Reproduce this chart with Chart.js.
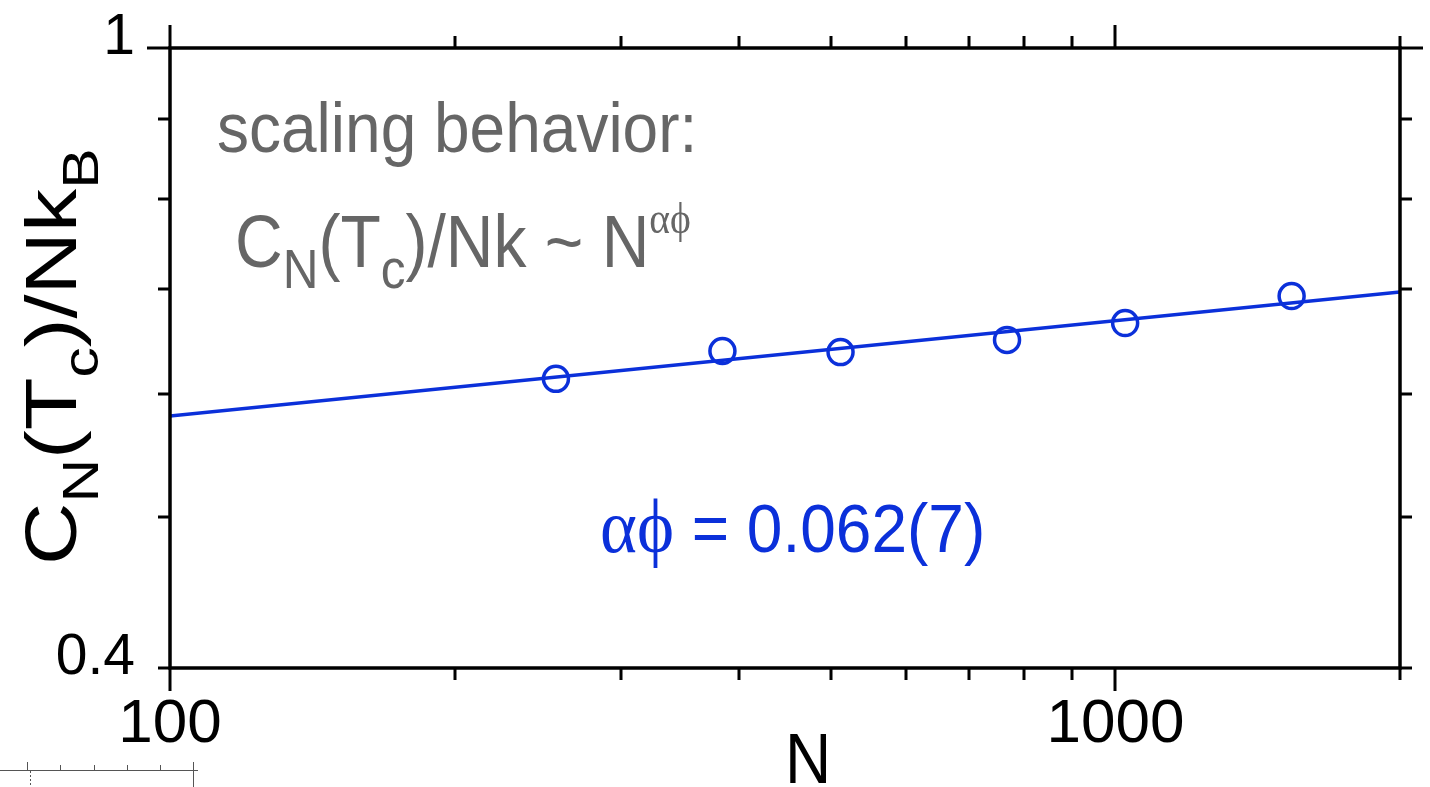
<!DOCTYPE html>
<html><head><meta charset="utf-8">
<script src="https://cdn.jsdelivr.net/npm/chart.js@4.4.1/dist/chart.umd.min.js"></script>
<style>html,body{margin:0;padding:0;background:#fff;overflow:hidden}#wrap{width:1430px;height:787px;position:relative}</style>
</head><body><div id="wrap"><canvas id="c" width="1430" height="787"></canvas></div>
<script>
// ---- data ----
const sizes = [256, 384, 512, 768, 1024, 1536];
const heatCapacity = [0.6133, 0.639, 0.638, 0.6496, 0.666, 0.6931];
const fitN = [100, 2000];
const fitC = [0.5805, 0.6973];
const xLabelTicks = [100, 1000];
const xMinorTicks = [200, 300, 400, 500, 600, 700, 800, 900, 2000];
const yLabelTicks = [0.4, 1];
const yMinorTicks = [0.5, 0.6, 0.7, 0.8, 0.9];
const xTitle = 'N';
const annotationLine1 = 'scaling behavior:';
const exponentValue = '0.062(7)';

const BLUE = '#0b30da';
const SANS = '"Liberation Sans", Arial, Helvetica, sans-serif';
const SERIF = '"Liberation Serif", "DejaVu Serif", "Times New Roman", serif';

function drawRich(ctx, parts, x, y, o) {
  ctx.save();
  ctx.translate(x, y);
  if (o.rot) ctx.rotate(o.rot);
  ctx.scale(o.sx || 1, o.sy || 1);
  ctx.fillStyle = o.color;
  ctx.textBaseline = 'alphabetic';
  ctx.textAlign = 'left';
  let cx = 0;
  for (const p of parts) {
    const s = o.size * (p.scale || (p.sub || p.sup ? 0.72 : 1));
    ctx.font = s + 'px ' + (p.family || o.family);
    const dy = p.sub ? o.size * (p.off || 0.27) : p.sup ? -o.size * (p.off || 0.42) : 0;
    cx += (p.dx || 0);
    ctx.fillText(p.t, cx, dy);
    cx += ctx.measureText(p.t).width;
  }
  ctx.restore();
}

const decorations = {
  id: 'decorations',
  afterDraw(chart) {
    const { ctx, chartArea: a, scales: { x, y } } = chart;
    const isMajor = v => Math.abs(Math.log10(v) - Math.round(Math.log10(v))) < 1e-9;
    ctx.save();
    ctx.strokeStyle = '#000';
    ctx.lineWidth = 3.5;
    ctx.lineCap = 'butt';
    ctx.strokeRect(a.left, a.top, a.right - a.left, a.bottom - a.top);
    ctx.lineWidth = 3;
    ctx.beginPath();
    [...xLabelTicks, ...xMinorTicks].forEach(v => {
      const px = Math.round(x.getPixelForValue(v));
      const L = isMajor(v) ? 23 : 12;
      ctx.moveTo(px, a.bottom); ctx.lineTo(px, a.bottom + L);
      ctx.moveTo(px, a.top); ctx.lineTo(px, a.top - L);
    });
    [...yLabelTicks, ...yMinorTicks].forEach(v => {
      const py = Math.round(y.getPixelForValue(v));
      const L = isMajor(v) ? 23 : 12;
      ctx.moveTo(a.left, py); ctx.lineTo(a.left - L, py);
      ctx.moveTo(a.right, py); ctx.lineTo(a.right + L, py);
    });
    ctx.stroke();

    // annotation text (gray)
    drawRich(ctx, [{ t: annotationLine1 }], 217, 152, { size: 64, family: SANS, color: '#666666', sy: 1.09 });
    drawRich(ctx, [
      { t: 'C' }, { t: 'N', sub: true, scale: 0.75, off: 0.28 }, { t: '(T' },
      { t: 'c', sub: true, scale: 0.75, off: 0.28 }, { t: ')/Nk ~ N' },
      { t: '\u03B1\u03D5', sup: true, scale: 0.6, off: 0.45, family: SERIF }
    ], 235, 267, { size: 66, family: SANS, color: '#666666', sy: 1.13 });

    // exponent (blue)
    drawRich(ctx, [
      { t: '\u03B1\u03D5', family: SERIF, scale: 1.1 }, { t: ' = ' + exponentValue }
    ], 600, 552, { size: 64, family: SANS, color: BLUE, sy: 1.07 });

    // x title
    ctx.save();
    ctx.font = '64px ' + SANS;
    const w = ctx.measureText(xTitle).width;
    ctx.restore();
    drawRich(ctx, [{ t: xTitle }], 808 - w / 2, 783, { size: 64, family: SANS, color: '#000', sy: 1.1 });

    // y title (rotated)
    drawRich(ctx, [
      { t: 'C' }, { t: 'N', sub: true, scale: 0.7, off: 0.3 }, { t: '(T' },
      { t: 'c', sub: true, scale: 0.7, off: 0.3 }, { t: ')/Nk' },
      { t: 'B', sub: true, scale: 0.7, off: 0.3 }
    ], 76, 565, { size: 72, family: SANS, color: '#000', rot: -Math.PI / 2, sx: 1.2, sy: 1.0 });

    // small ruler artifact bottom-left
    ctx.strokeStyle = '#555';
    ctx.lineWidth = 1;
    ctx.beginPath();
    ctx.moveTo(0, 770.5); ctx.lineTo(198, 770.5);
    ctx.moveTo(27.5, 762); ctx.lineTo(27.5, 770);
    [60, 94, 127, 160].forEach(px => { ctx.moveTo(px + 0.5, 765); ctx.lineTo(px + 0.5, 770); });
    ctx.moveTo(193.5, 762); ctx.lineTo(193.5, 787);
    ctx.stroke();
    ctx.setLineDash([2, 2]);
    ctx.beginPath(); ctx.moveTo(30.5, 771); ctx.lineTo(30.5, 787); ctx.stroke();
    ctx.restore();
  }
};

new Chart(document.getElementById('c'), {
  type: 'scatter',
  data: {
    datasets: [
      {
        label: 'data',
        data: sizes.map((n, i) => ({ x: n, y: heatCapacity[i] })),
        pointRadius: 12.5, pointHoverRadius: 12.5, pointBorderWidth: 3.5, borderWidth: 3.5,
        borderColor: BLUE, pointBorderColor: BLUE, backgroundColor: 'rgba(0,0,0,0)',
        pointBackgroundColor: 'rgba(0,0,0,0)', pointStyle: 'circle', order: 1
      },
      {
        label: 'fit', type: 'line',
        data: fitN.map((n, i) => ({ x: n, y: fitC[i] })),
        borderColor: BLUE, borderWidth: 3.5, pointRadius: 0, fill: false, tension: 0, order: 2
      }
    ]
  },
  options: {
    responsive: false, animation: false, devicePixelRatio: 1,
    layout: { padding: { top: 48, right: 30, left: 0, bottom: 0 } },
    plugins: { legend: { display: false }, tooltip: { enabled: false } },
    scales: {
      x: {
        type: 'logarithmic', position: 'bottom', min: 100, max: 2000,
        grid: { display: false, drawTicks: false }, border: { display: false },
        afterBuildTicks: s => { s.ticks = xLabelTicks.map(v => ({ value: v })); },
        afterFit: s => { s.height = 119; s.paddingLeft = 0; s.paddingRight = 0; },
        ticks: { autoSkip: false, maxRotation: 0, padding: 20, color: '#000',
          font: { size: 62, family: SANS }, callback: v => String(v) }
      },
      y: {
        type: 'logarithmic', position: 'left', min: 0.4, max: 1,
        grid: { display: false, drawTicks: false }, border: { display: false },
        afterBuildTicks: s => { s.ticks = yLabelTicks.map(v => ({ value: v })); },
        afterFit: s => { s.width = 170; s.paddingTop = 0; s.paddingBottom = 0; },
        ticks: { autoSkip: false, padding: 35, color: '#000', labelOffset: -10,
          font: { size: 57, family: SANS }, callback: v => String(v) }
      }
    }
  },
  plugins: [decorations]
});
</script></body></html>
